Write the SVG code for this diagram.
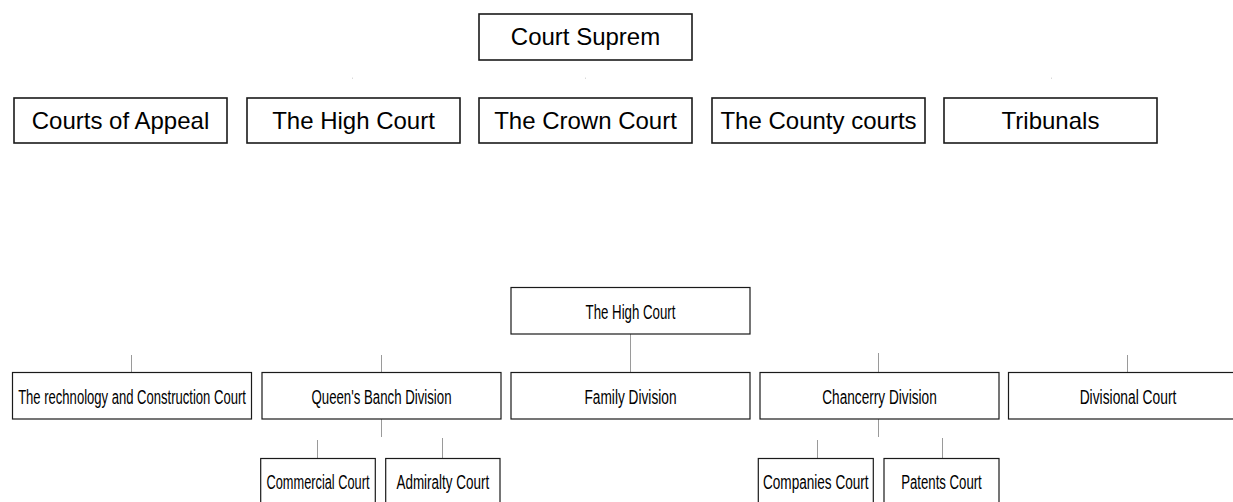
<svg xmlns="http://www.w3.org/2000/svg" width="1233" height="502" viewBox="0 0 1233 502">
<style>
.bg{fill:#ffffff}
.big rect{fill:#ffffff;stroke:#1a1a1a;stroke-width:1.6}
.big text{font-family:"Liberation Sans",Arial,sans-serif;font-size:24px;fill:#000;text-anchor:middle}
.sm rect{fill:#ffffff;stroke:#1a1a1a;stroke-width:1.2}
.sm text{font-family:"Liberation Sans",Arial,sans-serif;font-size:21px;fill:#000;text-anchor:middle}
.conn line{stroke:#9a9a9a;stroke-width:1}
.conn line.tick{stroke:#d0d0d0;stroke-width:0.8}
</style>
<rect class="bg" x="0" y="0" width="1233" height="502"/>
<g id="connectors" class="conn">
  <line class="tick" x1="352.5" y1="77.5" x2="352.5" y2="79"/>
  <line class="tick" x1="585.5" y1="77.5" x2="585.5" y2="79"/>
  <line class="tick" x1="1051.5" y1="77.5" x2="1051.5" y2="79"/>
  <line x1="131.5" y1="355" x2="131.5" y2="372.5"/>
  <line x1="381.5" y1="355" x2="381.5" y2="372.5"/>
  <line x1="630.5" y1="334" x2="630.5" y2="372.5"/>
  <line x1="878.5" y1="353" x2="878.5" y2="372.5"/>
  <line x1="1127.5" y1="355" x2="1127.5" y2="372.5"/>
  <line x1="381.5" y1="419" x2="381.5" y2="437"/>
  <line x1="317.5" y1="440" x2="317.5" y2="458.5"/>
  <line x1="442.5" y1="438" x2="442.5" y2="458.5"/>
  <line x1="878.5" y1="419" x2="878.5" y2="437"/>
  <line x1="817.5" y1="440" x2="817.5" y2="458.5"/>
  <line x1="942.5" y1="438" x2="942.5" y2="458.5"/>
</g>
<g id="court-suprem" class="big"><rect x="479" y="14" width="213" height="46"/><text x="585.5" y="45">Court Suprem</text></g>
<g id="courts-of-appeal" class="big"><rect x="14" y="98" width="213" height="45"/><text x="120.5" y="129">Courts of Appeal</text></g>
<g id="the-high-court-top" class="big"><rect x="247" y="98" width="213" height="45"/><text x="353.5" y="129">The High Court</text></g>
<g id="the-crown-court" class="big"><rect x="479" y="98" width="213" height="45"/><text x="585.5" y="129">The Crown Court</text></g>
<g id="the-county-courts" class="big"><rect x="712" y="98" width="213" height="45"/><text x="818.5" y="129">The County courts</text></g>
<g id="tribunals" class="big"><rect x="944" y="98" width="213" height="45"/><text x="1050.5" y="129">Tribunals</text></g>
<g id="the-high-court" class="sm"><rect x="511" y="287.5" width="239" height="46.5"/><text transform="translate(630.5,318.5) scale(0.632,1)">The High Court</text></g>
<g id="technology-construction" class="sm"><rect x="12.5" y="372.5" width="239" height="46.5"/><text transform="translate(132,403.5) scale(0.622,1)">The rechnology and Construction Court</text></g>
<g id="queens-banch" class="sm"><rect x="262" y="372.5" width="239" height="46.5"/><text transform="translate(381.5,403.5) scale(0.63,1)">Queen's Banch Division</text></g>
<g id="family-division" class="sm"><rect x="511" y="372.5" width="239" height="46.5"/><text transform="translate(630.5,403.5) scale(0.652,1)">Family Division</text></g>
<g id="chancerry-division" class="sm"><rect x="760" y="372.5" width="239" height="46.5"/><text transform="translate(879.5,403.5) scale(0.65,1)">Chancerry Division</text></g>
<g id="divisional-court" class="sm"><rect x="1008.5" y="372.5" width="239" height="46.5"/><text transform="translate(1128,403.5) scale(0.658,1)">Divisional Court</text></g>
<g id="commercial-court" class="sm"><rect x="260.7" y="458.5" width="114.6" height="46.5"/><text transform="translate(318,489) scale(0.609,1)">Commercial Court</text></g>
<g id="admiralty-court" class="sm"><rect x="385.7" y="458.5" width="114.3" height="46.5"/><text transform="translate(442.8,489) scale(0.641,1)">Admiralty Court</text></g>
<g id="companies-court" class="sm"><rect x="758.3" y="458.5" width="115" height="46.5"/><text transform="translate(815.8,489) scale(0.647,1)">Companies Court</text></g>
<g id="patents-court" class="sm"><rect x="884" y="458.5" width="115" height="46.5"/><text transform="translate(941.5,489) scale(0.628,1)">Patents Court</text></g>
</svg>
